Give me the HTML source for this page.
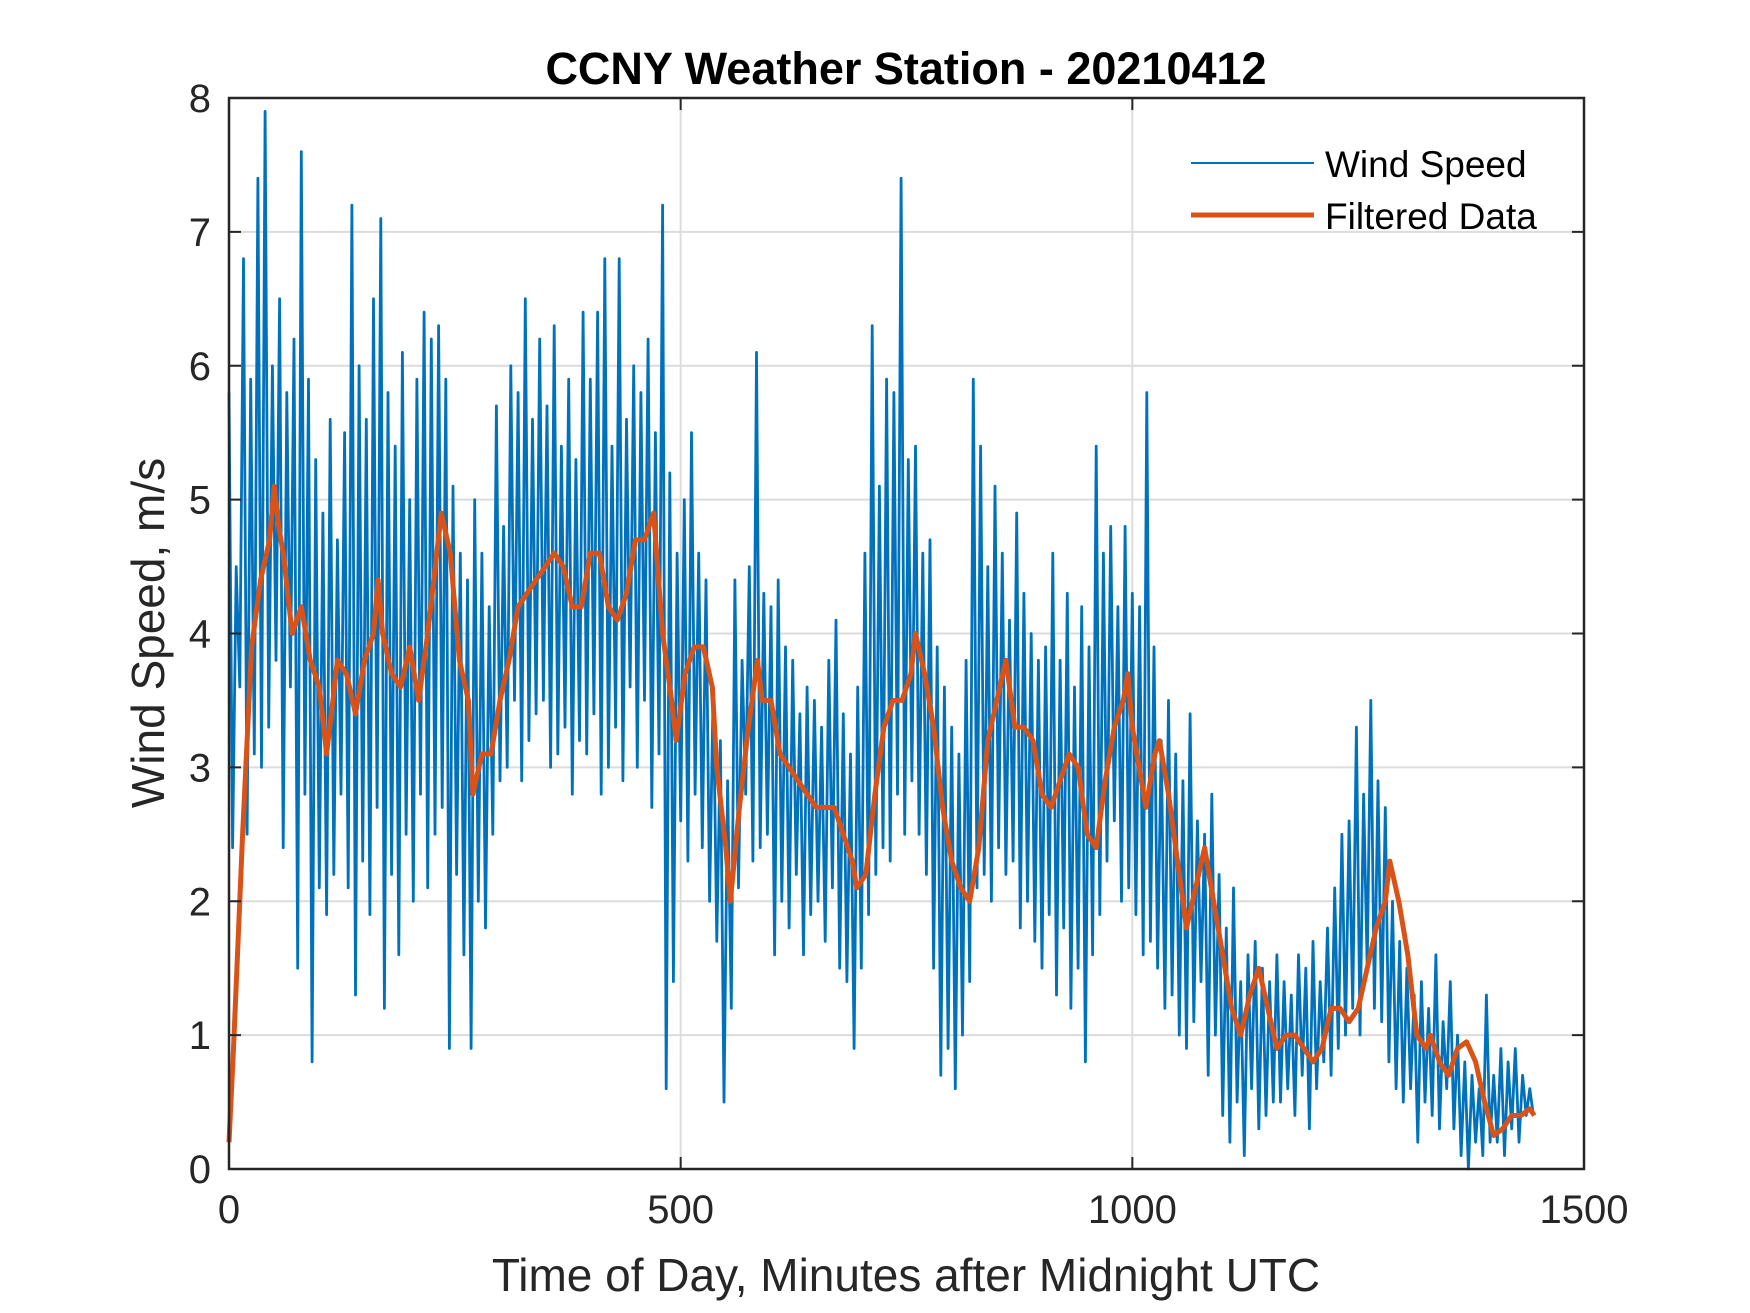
<!DOCTYPE html>
<html><head><meta charset="utf-8"><style>
html,body{margin:0;padding:0;background:#fff;}
svg{display:block;font-family:"Liberation Sans",Arial,sans-serif;}
</style></head><body>
<svg id="chart" width="1750" height="1313" viewBox="0 0 1750 1313" xmlns="http://www.w3.org/2000/svg">
<rect width="1750" height="1313" fill="#fff"/>
<g id="grid"></g>
<g id="raw"></g>
<g id="filt"></g>
<g id="axes"></g>
<text x="906" y="84" text-anchor="middle" font-size="45" font-weight="bold" fill="#000">CCNY Weather Station - 20210412</text>
<text x="906" y="1291" text-anchor="middle" font-size="46" fill="#262626">Time of Day, Minutes after Midnight UTC</text>
<text transform="translate(164,633) rotate(-90)" text-anchor="middle" font-size="46" fill="#262626">Wind Speed, m/s</text>
<g>
<line x1="1191" y1="163" x2="1314" y2="163" stroke="#0072BD" stroke-width="2"/>
<text x="1325" y="177" font-size="37" fill="#000">Wind Speed</text>
<line x1="1191" y1="215" x2="1314" y2="215" stroke="#D95319" stroke-width="5"/>
<text x="1325" y="229" font-size="37" fill="#000">Filtered Data</text>
</g>
</svg>
<script>
const rawStep = 4;
const rawValues = [
5.8,2.4,4.5,3.6,6.8,2.5,5.9,3.1,7.4,3.0,
7.9,3.3,6.0,3.8,6.5,2.4,5.8,3.6,6.2,1.5,
7.6,2.8,5.9,0.8,5.3,2.1,4.9,1.9,5.6,2.2,
4.7,2.8,5.5,2.1,7.2,1.3,6.0,2.3,5.6,1.9,
6.5,2.7,7.1,1.2,5.8,2.2,5.4,1.6,6.1,2.5,
5.0,2.0,5.9,2.8,6.4,2.1,6.2,2.5,6.3,2.7,
5.9,0.9,5.1,2.2,4.6,1.6,4.4,0.9,5.0,2.0,
4.6,1.8,4.2,2.5,5.7,2.9,4.8,3.0,6.0,3.5,
5.8,2.9,6.5,3.2,5.6,3.4,6.2,3.5,5.7,3.0,
6.3,3.1,5.4,3.3,5.9,2.8,5.3,3.2,6.4,3.1,
5.9,3.4,6.4,2.8,6.8,3.0,5.4,3.3,6.8,2.9,
5.6,3.6,6.0,3.0,5.8,3.5,6.2,2.7,5.5,3.1,
7.2,0.6,5.2,1.4,4.6,2.6,5.0,2.3,5.5,2.8,
4.6,2.4,4.4,2.0,3.6,1.7,3.2,0.5,2.9,1.2,
4.4,2.1,3.8,2.8,4.5,2.3,6.1,2.4,4.3,2.5,
4.2,1.6,4.4,2.0,3.9,1.8,3.8,2.2,3.4,1.6,
3.6,1.9,3.5,2.0,3.3,1.7,3.8,2.1,4.1,1.5,
3.4,1.4,3.1,0.9,3.6,1.5,4.6,1.9,6.3,2.2,
5.1,2.4,5.9,2.3,5.8,2.8,7.4,2.5,5.3,2.9,
5.4,2.5,4.6,2.2,4.7,1.5,3.9,0.7,3.6,0.9,
3.3,0.6,3.1,1.0,3.8,1.4,5.9,2.1,5.4,2.2,
4.5,2.0,5.1,2.4,4.6,2.2,4.1,2.3,4.9,1.8,
4.3,2.0,4.0,1.7,3.8,1.5,3.9,1.9,4.6,1.3,
3.8,1.8,4.3,1.2,3.6,1.5,4.2,0.8,3.9,1.6,
5.4,1.9,4.6,2.3,4.8,2.6,4.2,2.0,4.8,2.1,
4.3,1.9,4.2,1.6,5.8,1.7,3.9,1.5,3.2,1.2,
3.5,1.3,3.1,1.0,2.9,0.9,3.4,1.1,2.6,1.4,
2.5,0.7,2.8,1.0,2.2,0.4,1.8,0.2,2.1,0.5,
1.4,0.1,1.6,0.6,1.7,0.3,1.5,0.4,1.4,0.5,
1.6,0.5,1.4,0.6,1.3,0.4,1.6,0.7,1.5,0.3,
1.7,0.6,1.4,0.8,1.8,0.7,2.1,0.9,2.5,1.0,
2.6,1.2,3.3,1.0,2.8,1.5,3.5,1.2,2.9,1.1,
2.7,0.8,2.0,0.6,1.7,0.5,1.5,0.6,1.3,0.2,
1.4,0.5,1.2,0.4,1.6,0.3,1.1,0.6,1.4,0.3,
1.0,0.1,0.8,0.0,0.7,0.2,0.6,0.1,1.3,0.2,
0.7,0.2,0.9,0.1,0.8,0.3,0.9,0.2,0.7,0.4,
0.6,0.4];
const filtMinutes = [0,5,15,25,35,45,50,55,60,70,80,90,100,108,115,120,130,140,150,160,165,170,180,190,200,210,220,230,235,245,255,265,270,280,290,300,310,320,330,340,350,360,370,380,390,400,410,420,430,440,450,460,470,480,490,495,505,515,525,535,540,550,555,565,575,585,590,600,610,620,630,640,650,660,670,680,690,695,705,715,725,735,745,755,760,770,780,790,800,810,820,830,840,850,860,870,880,890,900,910,920,930,940,950,960,970,980,990,995,1000,1010,1015,1025,1030,1040,1050,1060,1070,1080,1090,1100,1110,1120,1130,1140,1150,1160,1170,1180,1190,1200,1210,1220,1230,1240,1250,1260,1270,1280,1285,1295,1305,1315,1325,1330,1340,1350,1360,1370,1380,1390,1400,1410,1420,1430,1440,1445];
const filtValues = [0.2,0.9,2.5,3.9,4.4,4.7,5.1,4.8,4.6,4.0,4.2,3.8,3.6,3.1,3.5,3.8,3.7,3.4,3.8,4.0,4.4,4.0,3.7,3.6,3.9,3.5,4.0,4.6,4.9,4.6,3.8,3.5,2.8,3.1,3.1,3.5,3.8,4.2,4.3,4.4,4.5,4.6,4.5,4.2,4.2,4.6,4.6,4.2,4.1,4.3,4.7,4.7,4.9,4.0,3.5,3.2,3.7,3.9,3.9,3.6,3.0,2.4,2.0,2.7,3.3,3.8,3.5,3.5,3.1,3.0,2.9,2.8,2.7,2.7,2.7,2.5,2.3,2.1,2.2,2.8,3.3,3.5,3.5,3.7,4.0,3.7,3.3,2.7,2.3,2.1,2.0,2.4,3.2,3.5,3.8,3.3,3.3,3.2,2.8,2.7,2.9,3.1,3.0,2.5,2.4,2.9,3.3,3.5,3.7,3.3,2.9,2.7,3.1,3.2,2.8,2.3,1.8,2.1,2.4,2.0,1.6,1.2,1.0,1.3,1.5,1.2,0.9,1.0,1.0,0.9,0.8,0.9,1.2,1.2,1.1,1.2,1.5,1.8,2.0,2.3,2.0,1.6,1.0,0.9,1.0,0.8,0.7,0.9,0.95,0.8,0.5,0.25,0.3,0.4,0.4,0.45,0.4];
const xTicks = [0,500,1000,1500];
const yTicks = [0,1,2,3,4,5,6,7,8];

const L=229,R=1584,T=98,B=1169;
const xMax=1500,yMax=8;
function sx(v){return L+(v/xMax)*(R-L);}
function sy(v){return B-(v/yMax)*(B-T);}
const NS="http://www.w3.org/2000/svg";
function mk(tag,attrs,parent){const e=document.createElementNS(NS,tag);for(const k in attrs)e.setAttribute(k,attrs[k]);parent.appendChild(e);return e;}
const grid=document.getElementById('grid'),axes=document.getElementById('axes');
xTicks.forEach(t=>{
  if(t>0&&t<xMax){const g=mk('line',{x1:sx(t),x2:sx(t),y1:T,y2:B,stroke:'#dcdcdc','stroke-width':2},grid);
  
  }
  const a=mk('line',{x1:sx(t),x2:sx(t),y1:B,y2:B-12,stroke:'#262626','stroke-width':2},axes);
  
  
  const b=mk('line',{x1:sx(t),x2:sx(t),y1:T,y2:T+12,stroke:'#262626','stroke-width':2},axes);
  
  
  const tx=mk('text',{x:sx(t),y:B+54,'text-anchor':'middle','font-size':40,fill:'#262626'},axes);
  tx.textContent=t;
  
  
});
yTicks.forEach(t=>{
  if(t>0&&t<yMax){const g=mk('line',{x1:L,x2:R,y1:sy(t),y2:sy(t),stroke:'#dcdcdc','stroke-width':2},grid);
  
  }
  const a=mk('line',{x1:L,x2:L+12,y1:sy(t),y2:sy(t),stroke:'#262626','stroke-width':2},axes);
  
  
  const b=mk('line',{x1:R,x2:R-12,y1:sy(t),y2:sy(t),stroke:'#262626','stroke-width':2},axes);
  
  
  const tx=mk('text',{x:L-18,y:sy(t)+14,'text-anchor':'end','font-size':40,fill:'#262626'},axes);
  tx.textContent=t;
  
  
});
const box=mk('rect',{x:L,y:T,width:R-L,height:B-T,fill:'none',stroke:'#262626','stroke-width':2.5},axes);



const rp=rawValues.map((v,i)=>sx(i*rawStep).toFixed(1)+','+sy(v).toFixed(1)).join(' ');
const raw=mk('polyline',{points:rp,fill:'none',stroke:'#0072BD','stroke-width':2.8,'stroke-linejoin':'round'},document.getElementById('raw'));


const fp=filtValues.map((v,i)=>sx(filtMinutes[i]).toFixed(1)+','+sy(v).toFixed(1)).join(' ');
const f=mk('polyline',{points:fp,fill:'none',stroke:'#D95319','stroke-width':5,'stroke-linejoin':'round'},document.getElementById('filt'));


</script>
</body></html>
